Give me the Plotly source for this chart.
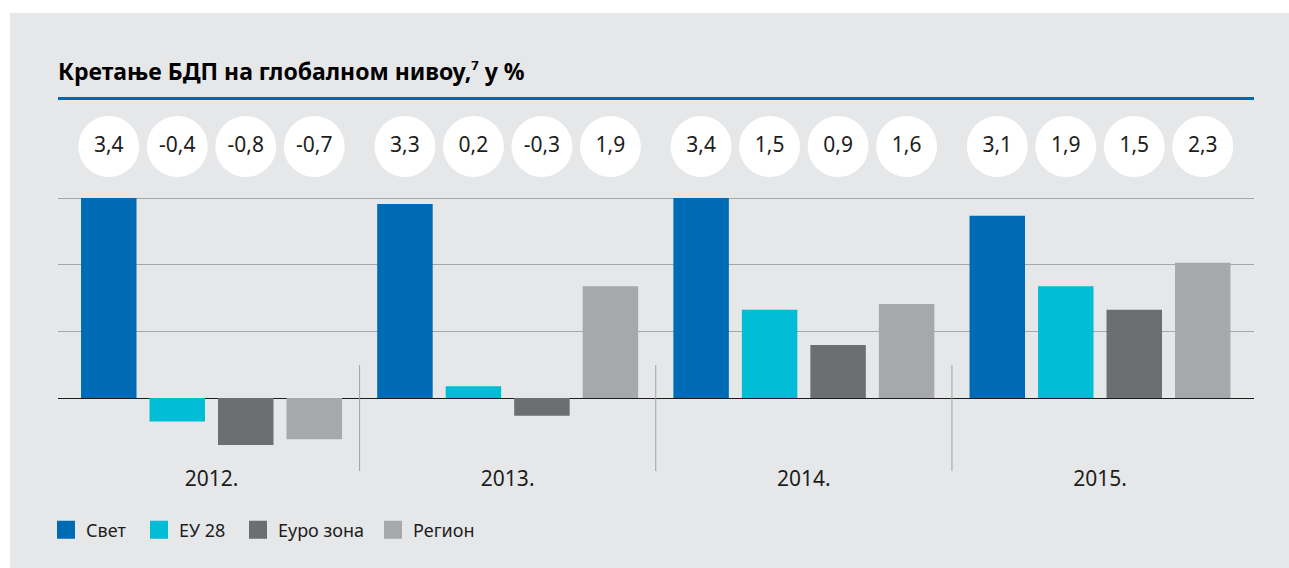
import plotly.graph_objects as go

# data
years = ["2012.", "2013.", "2014.", "2015."]
series = ["Свет", "ЕУ 28", "Еуро зона", "Регион"]
svet = [3.4, 3.3, 3.4, 3.1]
eu28 = [-0.4, 0.2, 1.5, 1.9]
euro = [-0.8, -0.3, 0.9, 1.5]
region = [-0.7, 1.9, 1.6, 2.3]
colors = ["#006bb5", "#00bcd4", "#6d6e72", "#a7a8ac"]

values = [svet, eu28, euro, region]
xs = list(range(len(years)))

FONT = "Noto Sans"
TXT = "#1d1d1b"
BG = "#e6e7e9"

# pixel layout helpers (plot area 58..1254 x 98..464)
L, R, T, B = 58, 1254, 98, 464
x_range = [-0.5183, 3.5199]
ppu = 200 / 3.4  # px per y unit
y_range = [-(B - 398) / ppu, 3.4 + (198 - T) / ppu]
bargap = 0.075
slot = (1 - bargap) / 4
circle_y = 3.4 + (198 - 146.5) / ppu
legend_px = [46, 139, 238, 373]  # left edge of each legend box


def px_x(p):
    return (p - L) / (R - L)


def px_y(p):
    return (B - p) / (B - T)


def dx_paper(v):
    return (v - x_range[0]) / (x_range[1] - x_range[0])


fig = go.Figure()

for k, (name, vals, col) in enumerate(zip(series, values, colors)):
    fig.add_trace(go.Bar(x=xs, y=vals, name=name, marker_color=col,
                         marker_line_width=0, showlegend=False))
    # value bubbles above each bar
    fig.add_trace(go.Scatter(
        x=[i + (k - 1.5) * slot for i in xs], y=[circle_y] * len(xs),
        mode="markers+text", text=[f"{v:.1f}".replace(".", ",") for v in vals],
        textposition="middle center", textfont=dict(size=21, color=TXT, family=FONT),
        marker=dict(size=61, color="white", line_width=0),
        showlegend=False, cliponaxis=False, hoverinfo="skip"))
    # legend entry, each in its own legend box
    fig.add_trace(go.Scatter(x=[None], y=[None], mode="markers", name=name,
                             legend="legend" if k == 0 else f"legend{k + 1}",
                             marker=dict(symbol="square", size=16, color=col,
                                         line=dict(color=col, width=2))))

shapes = [
    # grey panel
    dict(type="rect", xref="paper", yref="paper", x0=px_x(10), x1=px_x(1300),
         y0=px_y(580), y1=px_y(13), fillcolor=BG, line_width=0, layer="below"),
    # blue rule under title
    dict(type="line", xref="paper", yref="paper", x0=0, x1=1, y0=px_y(98.5), y1=px_y(98.5),
         line=dict(color="#0069b4", width=3)),
]
for i in xs[:-1]:
    shapes.append(dict(type="line", xref="paper", yref="paper",
                       x0=dx_paper(i + 0.5), x1=dx_paper(i + 0.5),
                       y0=px_y(365), y1=px_y(471),
                       line=dict(color="#a0a1a4", width=1)))

legends = {}
for k, lx in enumerate(legend_px):
    key = "legend" if k == 0 else f"legend{k + 1}"
    legends[key] = dict(orientation="h", x=px_x(lx), xanchor="left", y=px_y(530),
                        yanchor="middle", bgcolor="rgba(0,0,0,0)",
                        font=dict(size=18, color=TXT, family=FONT), itemwidth=30)

fig.update_layout(
    width=1289, height=568,
    margin=dict(l=L, r=1289 - R, t=T, b=568 - B),
    paper_bgcolor="white", plot_bgcolor="rgba(0,0,0,0)",
    barmode="group", bargap=bargap, bargroupgap=0.19,
    font=dict(family=FONT, color=TXT),
    title=dict(text="<b>Кретање БДП на глобалном нивоу,<sup><span style='font-size:13px'>7</span></sup> у %</b>",
               x=58 / 1289, xanchor="left", xref="container",
               y=1 - 72 / 568, yanchor="middle", yref="container",
               font=dict(size=23, color="black", family=FONT)),
    xaxis=dict(range=x_range, tickvals=xs, ticktext=years, showgrid=False,
               zeroline=False, showline=False, ticks="",
               tickfont=dict(size=21, color=TXT, family=FONT)),
    yaxis=dict(range=y_range, tickvals=[0, 3.4 / 3, 6.8 / 3, 3.4], showticklabels=False,
               gridcolor="#a5a6a9", gridwidth=1, zeroline=True, zerolinecolor="#1d1d1b",
               zerolinewidth=1, showline=False, ticks=""),
    shapes=shapes,
    **legends,
)

fig.write_html("out.html", config={"displayModeBar": False},
               post_script="document.body.style.margin='0';")
